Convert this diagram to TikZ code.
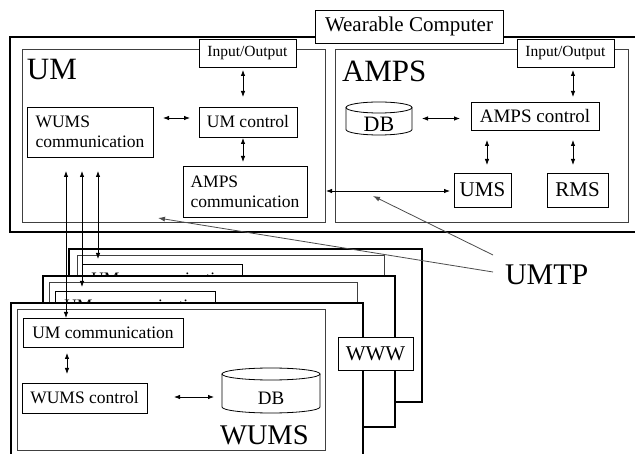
\documentclass[tikz,border=0pt]{standalone}
\usepackage{fontspec}
\setmainfont{Liberation Serif}
\usetikzlibrary{arrows.meta,calc}
\begin{document}
\begin{tikzpicture}[x=1pt,y=-1pt,
  every node/.style={inner sep=0pt, outer sep=0pt},
  tbox/.style={draw=black, line width=0.8pt, fill=white},
  gbox/.style={draw=black!75, line width=0.8pt, fill=white},
  obox/.style={draw=black, line width=1.8pt, fill=white},
  nf/.style={font=\fontsize{17.5}{20}\selectfont},
  iof/.style={font=\fontsize{15.5}{18}\selectfont},
  mf/.style={font=\fontsize{21}{24}\selectfont},
  bigf/.style={font=\fontsize{31}{31}\selectfont},
  cyl/.style={draw=black, line width=0.8pt},
  dbl/.style={line width=0.8pt, {Latex[length=6pt,width=4.5pt]}-{Latex[length=6pt,width=4.5pt]}},
  ptr/.style={line width=0.8pt, draw=black!70, -{Latex[length=7pt,width=5pt]}}]
\useasboundingbox (0,0) rectangle (635,454);
\clip (0,0) rectangle (635,454);
\fill[white] (0,0) rectangle (635,454);

% Wearable computer
\node[obox, minimum width=640pt, minimum height=195pt] (wc) at (330,134.5) {};
\node[gbox, minimum width=303pt, minimum height=173pt] (um) at (173.5,135.5) {};
\node[gbox, minimum width=293pt, minimum height=173pt] (amps) at (481.5,135.5) {};
\node[tbox, mf, minimum width=188pt, minimum height=33pt] (wcl) at (409,26.5) {Wearable Computer};
\node[tbox, iof, minimum width=97pt, minimum height=28pt] (io1) at (247.5,53) {Input/Output};
\node[tbox, iof, minimum width=97pt, minimum height=28pt] (io2) at (565.5,53) {Input/Output};
\node[bigf, anchor=base west] (umlbl) at (27,80) {UM};
\node[bigf, anchor=base west] (ampslbl) at (342,82) {AMPS};

% UM contents
\node[tbox, nf, align=left, minimum width=126pt, minimum height=50pt] (wumscomm) at (90,132) {WUMS\\communication};
\node[tbox, nf, minimum width=98pt, minimum height=30pt] (umctrl) at (248,122) {UM control};
\node[tbox, nf, align=left, minimum width=124pt, minimum height=51pt] (ampscomm) at (245,191.5) {AMPS\\communication};

% AMPS contents
\node[minimum width=66pt, minimum height=33pt] (db1) at (379,118.5) {};
\draw[cyl] ($(db1.north west)+(0,5.5)$) -- ($(db1.south west)+(0,-5.5)$)
  arc[start angle=180, end angle=0, x radius=33, y radius=5.5]
  -- ($(db1.north east)+(0,5.5)$);
\draw[cyl] ($(db1.north)+(0,5.5)$) ellipse[x radius=33, y radius=5.5];
\node[font=\fontsize{22}{22}\selectfont] (db1t) at (379,124) {DB};
\node[tbox, font=\fontsize{19}{22}\selectfont, minimum width=128pt, minimum height=28pt] (ampsctrl) at (535,116) {AMPS control};
\node[tbox, mf, minimum width=57pt, minimum height=34pt] (ums) at (482.5,190) {UMS};
\node[tbox, mf, minimum width=61pt, minimum height=34pt] (rms) at (577.5,190) {RMS};

% connectors in wearable computer
\draw[dbl, shorten <=3pt, shorten >=10pt] ([xshift=-4.5pt]io1.south) -- ([xshift=-4.5pt]io1.south |- umctrl.north);
\draw[dbl, shorten <=9pt, shorten >=10pt] ([yshift=4pt]umctrl.west) -- ([yshift=4pt]umctrl.west -| wumscomm.east);
\draw[dbl, shorten <=1pt, shorten >=4pt] ([xshift=-5pt]umctrl.south) -- ([xshift=-5pt]umctrl.south |- ampscomm.north);
\draw[dbl, shorten <=3pt, shorten >=5pt] ([xshift=7.5pt]io2.south) -- ([xshift=7.5pt]io2.south |- ampsctrl.north);
\draw[dbl, shorten <=10pt, shorten >=11pt] (db1.east) -- (db1.east -| ampsctrl.west);
\draw[dbl, shorten <=10pt, shorten >=8pt] ([xshift=4.5pt]ums.north |- ampsctrl.south) -- ([xshift=4.5pt]ums.north);
\draw[dbl, shorten <=10pt, shorten >=8pt] ([xshift=-4.5pt]rms.north |- ampsctrl.south) -- ([xshift=-4.5pt]rms.north);
\draw[dbl, shorten <=4pt, shorten >=1pt] ([yshift=-1pt]ums.west) -- ([yshift=-1pt]ums.west -| um.east);

% stacked WUMS frames
\node[obox, minimum width=353pt, minimum height=153pt] (bo) at (245.5,325.5) {};
\node[gbox, minimum width=307pt, minimum height=140pt] (bi) at (230.5,325) {};
\node[tbox, nf, minimum width=160pt, minimum height=29pt] (bumc) at (162,278.5) {UM communication};
\node[obox, minimum width=352pt, minimum height=151pt] (mo) at (219,351.5) {};
\node[gbox, minimum width=308pt, minimum height=138pt] (mi) at (203,351) {};
\node[tbox, nf, minimum width=160pt, minimum height=29pt] (mumc) at (135,305.5) {UM communication};
\node[obox, minimum width=352pt, minimum height=177pt] (fo) at (187,391.5) {};
\node[gbox, minimum width=308pt, minimum height=141pt] (fi) at (171,379.5) {};
\node[tbox, nf, minimum width=160pt, minimum height=29pt] (umcF) at (103,332.5) {UM communication};
\node[tbox, nf, minimum width=125pt, minimum height=30pt] (wumsctrl) at (84.5,398) {WUMS control};
\node[minimum width=98pt, minimum height=45pt] (dbF) at (271,390.5) {};
\draw[cyl] ($(dbF.north west)+(0,6)$) -- ($(dbF.south west)+(0,-6)$)
  arc[start angle=180, end angle=0, x radius=49, y radius=6]
  -- ($(dbF.north east)+(0,6)$);
\draw[cyl] ($(dbF.north)+(0,6)$) ellipse[x radius=49, y radius=6];
\node[font=\fontsize{19}{19}\selectfont] (dbFt) at (271,398.5) {DB};
\node[font=\fontsize{28.5}{29}\selectfont, anchor=base west] (wumslbl) at (220,445) {WUMS};
\node[tbox, mf, minimum width=75pt, minimum height=33pt] (www) at (375.5,353.5) {WWW};

\draw[dbl, shorten <=6pt, shorten >=9pt] ([xshift=-36pt]umcF.south) -- ([xshift=-36pt]umcF.south |- wumsctrl.north);
\draw[dbl, shorten <=27pt, shorten >=8pt] ([yshift=1pt]wumsctrl.east) -- ([yshift=1pt]wumsctrl.east -| dbF.west);

% links WUMS communication to the frames
\draw[dbl, shorten <=14pt, shorten >=0pt] ([xshift=-24pt]wumscomm.south) -- ([xshift=-24pt]wumscomm.south |- umcF.north);
\draw[dbl, shorten <=14pt, shorten >=4pt] ([xshift=-8pt]wumscomm.south) -- ([xshift=-8pt]wumscomm.south |- mumc.north);
\draw[dbl, shorten <=14pt, shorten >=5pt] ([xshift=8pt]wumscomm.south) -- ([xshift=8pt]wumscomm.south |- bumc.north);

% UMTP
\node[font=\fontsize{30}{30}\selectfont, anchor=base west] (umtp) at (505,285) {UMTP};
\coordinate (u1) at (493,255);
\coordinate (u2) at (493,272);
\coordinate (a1) at (373,196);
\coordinate (a2) at (158,218);
\draw[ptr] (u1) -- (a1);
\draw[ptr] (u2) -- (a2);
\end{tikzpicture}
\end{document}
